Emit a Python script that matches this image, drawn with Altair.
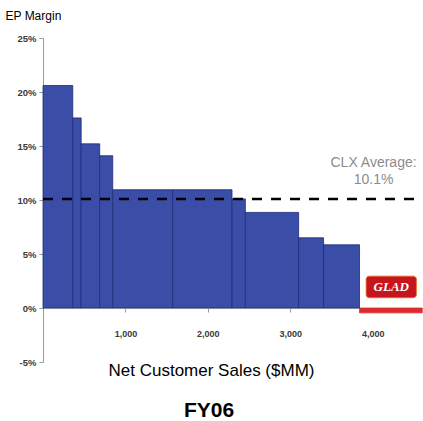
import altair as alt
import pandas as pd

# EP margin by business, bar width = net customer sales ($MM)
businesses = ["Business A", "Business B", "Business C", "Business D", "Business E",
              "Business F", "Business G", "Business H", "Business I", "Business J", "Glad"]
net_sales = [361, 102, 225, 158, 727, 720, 162, 646, 303, 436, 760]
ep_margin = [20.6, 17.6, 15.2, 14.1, 10.95, 10.95, 10.1, 8.85, 6.5, 5.85, -0.45]
bar_group = ["core"] * 10 + ["glad"]

clx_average = 10.1
x_ticks = [1000, 2000, 3000, 4000]
x_max = 4610

df = pd.DataFrame({"business": businesses, "sales": net_sales,
                   "margin": ep_margin, "group": bar_group})
df["end"] = df["sales"].cumsum()
df["start"] = df["end"] - df["sales"]
df["zero"] = 0.0

x_scale = alt.Scale(domain=[0, x_max], nice=False, zero=True)
y_scale = alt.Scale(domain=[-5, 25], nice=False)
group_domain = ["core", "glad"]

bars = alt.Chart(df).mark_rect(strokeWidth=0.8).encode(
    x=alt.X("start:Q", scale=x_scale,
            axis=alt.Axis(values=x_ticks, labelExpr="format(datum.value, ',')",
                          offset=-54, grid=False,
                          domainColor="#c4c4c4", domainWidth=1,
                          tickColor="#999999", tickSize=4,
                          labelFont="Liberation Sans", labelFontSize=9,
                          labelFontWeight="bold", labelColor="#3a3a3a",
                          labelPadding=17,
                          title="Net Customer Sales ($MM)",
                          titleFont="Liberation Sans", titleFontSize=17,
                          titleFontWeight="normal", titleColor="#000000",
                          titleX=168, titleY=62, titleBaseline="middle",
                          titleAnchor="start", titleAlign="center")),
    x2="end:Q",
    y=alt.Y("margin:Q", scale=y_scale,
            axis=alt.Axis(values=[-5, 0, 5, 10, 15, 20, 25],
                          labelExpr="datum.value + '%'", grid=False,
                          domainColor="#9a9a9a", domainWidth=1,
                          tickColor="#9a9a9a", tickSize=4,
                          labelFont="Liberation Sans", labelFontSize=9.5,
                          labelFontWeight="bold", labelColor="#3a3a3a",
                          labelPadding=3,
                          title="EP Margin", titleFont="Liberation Sans",
                          titleFontSize=12, titleFontWeight="normal",
                          titleColor="#000000", titleAngle=0,
                          titleAlign="left", titleBaseline="middle",
                          titleX=-38, titleY=-23)),
    y2="zero:Q",
    color=alt.Color("group:N", legend=None,
                    scale=alt.Scale(domain=group_domain,
                                    range=["#3a4ea8", "#dd2a2e"])),
    stroke=alt.Stroke("group:N", legend=None,
                      scale=alt.Scale(domain=group_domain,
                                      range=["#1e2b78", "#dd2a2e"])),
)

avg_df = pd.DataFrame({"avg": [clx_average], "x0": [0], "x1": [x_max]})
avg_line = alt.Chart(avg_df).mark_rule(
    color="#000000", strokeWidth=2.5, strokeDash=[10, 9]
).encode(x=alt.X("x0:Q", scale=x_scale), x2="x1:Q", y=alt.Y("avg:Q", scale=y_scale))

label_df = pd.DataFrame({"x": [4010], "y": [13.45],
                         "text": [["CLX Average:", f"{clx_average}%"]]})
avg_label = alt.Chart(label_df).mark_text(
    font="Liberation Sans", fontSize=14, color="#8c8c8c",
    align="center", baseline="middle", lineHeight=17
).encode(x=alt.X("x:Q", scale=x_scale), y=alt.Y("y:Q", scale=y_scale), text="text")

# brand badge above the Glad bar
badge_df = pd.DataFrame({"x0": [3920], "x1": [4530], "y0": [0.95], "y1": [2.95],
                         "xm": [4225], "ym": [1.95], "brand": ["GLAD"]})
badge = alt.Chart(badge_df).mark_rect(
    color="#c8141c", cornerRadius=3, stroke="#e07020", strokeWidth=0.8
).encode(x=alt.X("x0:Q", scale=x_scale), x2="x1:Q",
         y=alt.Y("y0:Q", scale=y_scale), y2="y1:Q")
badge_text = alt.Chart(badge_df).mark_text(
    font="Liberation Serif", fontSize=13, fontWeight="bold", fontStyle="italic",
    color="#ffffff", align="center", baseline="middle"
).encode(x=alt.X("xm:Q", scale=x_scale), y=alt.Y("ym:Q", scale=y_scale), text="brand")

chart = alt.layer(bars, avg_line, avg_label, badge, badge_text).properties(
    width=380, height=324,
    autosize=alt.AutoSizeParams(type="none"),
    padding={"left": 43, "top": 38, "right": 0, "bottom": 59},
    background="#ffffff",
    title=alt.TitleParams("FY06", orient="bottom", frame="group", anchor="middle",
                          dx=-24, offset=22, font="Liberation Sans", fontSize=21,
                          fontWeight="bold", color="#000000", baseline="top"),
).configure_view(stroke=None)

chart.save("out.html", embed_options={"renderer": "svg", "actions": False})
